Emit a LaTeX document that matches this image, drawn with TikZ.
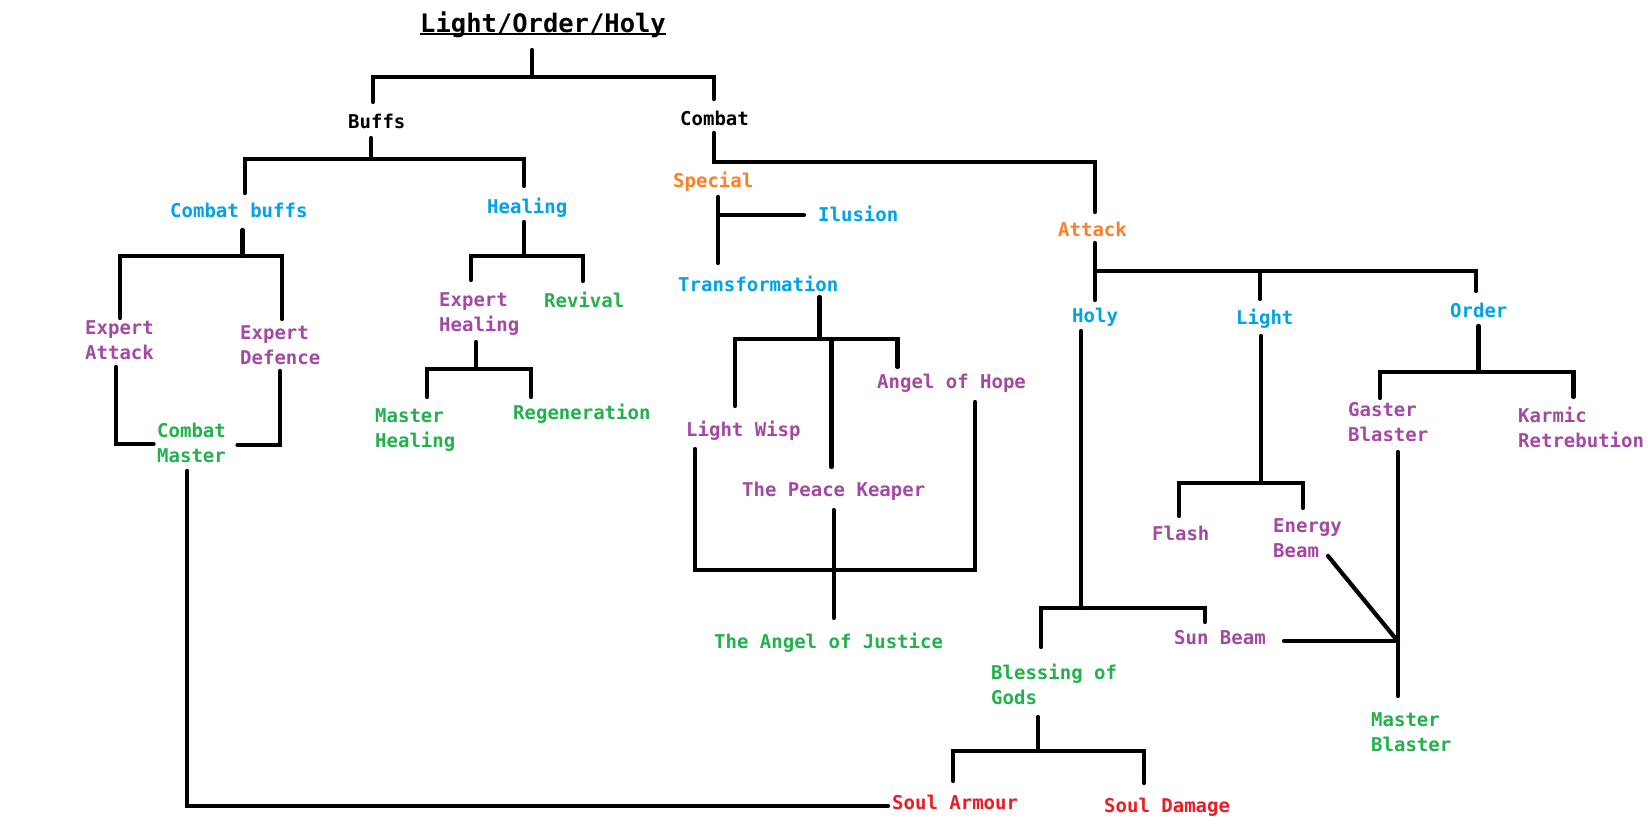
\documentclass[tikz,border=0pt]{standalone}
\usepackage{fontspec}
\newfontfamily\pix{DejaVu Sans Mono}
\definecolor{pblue}{HTML}{00A2E8}
\definecolor{porange}{HTML}{FF7F27}
\definecolor{ppurple}{HTML}{A349A4}
\definecolor{pgreen}{HTML}{22B14C}
\definecolor{pred}{HTML}{ED1C24}
\tikzset{
  lab/.style={inner sep=0pt, anchor=base west, font={\pix\bfseries\fontsize{19}{25}\selectfont}},
  labtwo/.style={lab, anchor=north west, align=left},
  conn/.style={line width=4.2pt, line cap=round, line join=miter, black},
}
\begin{document}
\begin{tikzpicture}[x=1pt, y=-1pt]
\fill[white] (0,0) rectangle (1648,830);
\useasboundingbox (0,0) rectangle (1648,830);

% ---------- nodes ----------
\node[lab, font={\pix\bfseries\fontsize{25.5}{30}\selectfont}] (title) at (420,32) {Light/Order/Holy};
\node[lab] (buffs) at (348,128) {Buffs};
\node[lab] (combat) at (680,125) {Combat};
\node[lab, text=pblue] (cbuffs) at (170,217) {Combat buffs};
\node[lab, text=pblue] (healing) at (487,213) {Healing};
\node[lab, text=porange] (special) at (673,187) {Special};
\node[lab, text=pblue] (ilusion) at (818,221) {Ilusion};
\node[lab, text=porange] (attack) at (1058,236) {Attack};
\node[lab, text=pblue] (transf) at (678,291) {Transformation};
\node[lab, text=pblue] (holy) at (1072,322) {Holy};
\node[lab, text=pblue] (light) at (1236,324) {Light};
\node[lab, text=pblue] (order) at (1450,317) {Order};
\node[labtwo, text=ppurple] (expatt) at (85,320) {Expert\\Attack};
\node[labtwo, text=ppurple] (expdef) at (240,325) {Expert\\Defence};
\node[labtwo, text=ppurple] (exphea) at (439,292) {Expert\\Healing};
\node[lab, text=pgreen] (revival) at (544,307) {Revival};
\node[labtwo, text=pgreen] (mheal) at (375,408) {Master\\Healing};
\node[lab, text=pgreen] (regen) at (513,419) {Regeneration};
\node[labtwo, text=pgreen] (cmaster) at (157,423) {Combat\\Master};
\node[lab, text=ppurple] (hope) at (877,388) {Angel of Hope};
\node[lab, text=ppurple] (wisp) at (686,436) {Light Wisp};
\node[lab, text=ppurple] (peace) at (742,496) {The Peace Keaper};
\node[lab, text=pgreen] (justice) at (714,648) {The Angel of Justice};
\node[labtwo, text=ppurple] (gaster) at (1348,402) {Gaster\\Blaster};
\node[labtwo, text=ppurple] (karmic) at (1518,407) {Karmic\\Retrebution};
\node[lab, text=ppurple] (flash) at (1152,540) {Flash};
\node[labtwo, text=ppurple] (energy) at (1273,518) {Energy\\Beam};
\node[lab, text=ppurple] (sunbeam) at (1174,644) {Sun Beam};
\node[labtwo, text=pgreen] (blessing) at (991,664) {Blessing of\\Gods};
\node[labtwo, text=pgreen] (mblaster) at (1371,712) {Master\\Blaster};
\node[lab, text=pred] (armour) at (892,809) {Soul Armour};
\node[lab, text=pred] (damage) at (1104,812) {Soul Damage};

% title underline
\draw[line width=2pt] ([yshift=-2pt]title.base west) -- ([yshift=-2pt]title.base east);

% ---------- connector end points ----------
\coordinate (titleS) at (532,50);
\coordinate (topbar) at (532,77);
\coordinate (buffsN) at (373,102);
\coordinate (combatN) at (714,99);
\coordinate (buffsS) at (371,138);
\coordinate (buffsbar) at (371,159);
\coordinate (cbuffsN) at (245,193);
\coordinate (healingN) at (524,186);
\coordinate (combatS) at (714,133);
\coordinate (attackN) at (1095,212);
\coordinate (cbuffsS) at (242.5,230);
\coordinate (cbuffsbar) at (242.5,256);
\coordinate (expattN) at (120,318);
\coordinate (expdefN) at (282,319);
\coordinate (healingS) at (524,222);
\coordinate (healingbar) at (524,256);
\coordinate (exheaN) at (471,280);
\coordinate (revivalN) at (583,281);
\coordinate (expattS) at (116,367);
\coordinate (cmW) at (153.6,444);
\coordinate (expdefS) at (280,371);
\coordinate (cmE) at (237.5,445);
\coordinate (cmS) at (187,471);
\coordinate (armourW) at (888,806);
\coordinate (exheaS) at (476,342);
\coordinate (exheabar) at (476,369);
\coordinate (mhealN) at (427,397);
\coordinate (regenN) at (531,397);
\coordinate (specialS) at (718,197);
\coordinate (transfN) at (718,263);
\coordinate (ilusionbr) at (718,215);
\coordinate (ilusionW) at (804,215);
\coordinate (transfS) at (819.5,297);
\coordinate (transfbar) at (819.5,339);
\coordinate (wispN) at (735,406);
\coordinate (hopeN) at (897.5,367);
\coordinate (peacebr) at (831.4,339);
\coordinate (peaceN) at (831.4,467);
\coordinate (wispS) at (695,449);
\coordinate (hopeS) at (975,402);
\coordinate (justbar) at (833.6,570);
\coordinate (peaceS) at (833.6,510);
\coordinate (justiceN) at (833.6,618);
\coordinate (attackS) at (1095,243);
\coordinate (attackbar) at (1095,271);
\coordinate (holyN) at (1095,300);
\coordinate (orderN) at (1476,291);
\coordinate (lightbr) at (1260,271);
\coordinate (lightN) at (1260,299);
\coordinate (holyS) at (1081,331);
\coordinate (holybar) at (1081,608);
\coordinate (blessingN) at (1041,647);
\coordinate (sunbeamN) at (1205,622);
\coordinate (lightS) at (1261,336);
\coordinate (lightbar) at (1261,483);
\coordinate (flashN) at (1179,516);
\coordinate (energyN) at (1303,508);
\coordinate (orderS) at (1478.5,326);
\coordinate (orderbar) at (1478.5,372);
\coordinate (gasterN) at (1380,398);
\coordinate (karmicN) at (1573.5,397);
\coordinate (gasterS) at (1398,452);
\coordinate (mblasterN) at (1398,696);
\coordinate (mbmeet) at (1398,641);
\coordinate (sunbeamE) at (1284,641);
\coordinate (energyS) at (1328,556);
\coordinate (mbdiag) at (1396,639);
\coordinate (blessingS) at (1038,717);
\coordinate (blessingbar) at (1038,751);
\coordinate (armourN) at (953,781);
\coordinate (damageN) at (1144,783);

% ---------- connectors ----------
\draw[conn] (titleS) -- (topbar);
\draw[conn] (buffsN) |- (topbar) -| (combatN);
\draw[conn] (buffsS) -- (buffsbar);
\draw[conn] (cbuffsN) |- (buffsbar) -| (healingN);
\draw[conn] (combatS) |- (attackN |- 0,162) -- (attackN);
\draw[conn] (cbuffsS) -- (cbuffsbar);
\draw[conn] (expattN) |- (cbuffsbar) -| (expdefN);
\draw[conn] (healingS) -- (healingbar);
\draw[conn] (exheaN) |- (healingbar) -| (revivalN);
\draw[conn] (expattS) |- (cmW);
\draw[conn] (expdefS) |- (cmE);
\draw[conn] (cmS) |- (armourW);
\draw[conn] (exheaS) -- (exheabar);
\draw[conn] (mhealN) |- (exheabar) -| (regenN);
\draw[conn] (specialS) -- (transfN);
\draw[conn] (ilusionbr) -- (ilusionW);
\draw[conn] (transfS) -- (transfbar);
\draw[conn] (wispN) |- (transfbar) -| (hopeN);
\draw[conn] (peacebr) -- (peaceN);
\draw[conn] (wispS) |- (justbar) -| (hopeS);
\draw[conn] (peaceS) -- (justiceN);
\draw[conn] (attackS) -- (holyN);
\draw[conn] (attackbar) -| (orderN);
\draw[conn] (lightbr) -- (lightN);
\draw[conn] (holyS) -- (holybar);
\draw[conn] (blessingN) |- (holybar) -| (sunbeamN);
\draw[conn] (lightS) -- (lightbar);
\draw[conn] (flashN) |- (lightbar) -| (energyN);
\draw[conn] (orderS) -- (orderbar);
\draw[conn] (gasterN) |- (orderbar) -| (karmicN);
\draw[conn] (gasterS) -- (mblasterN);
\draw[conn] (sunbeamE) -- (mbmeet);
\draw[conn] (energyS) -- (mbdiag);
\draw[conn] (blessingS) -- (blessingbar);
\draw[conn] (armourN) |- (blessingbar) -| (damageN);
\end{tikzpicture}
\end{document}
